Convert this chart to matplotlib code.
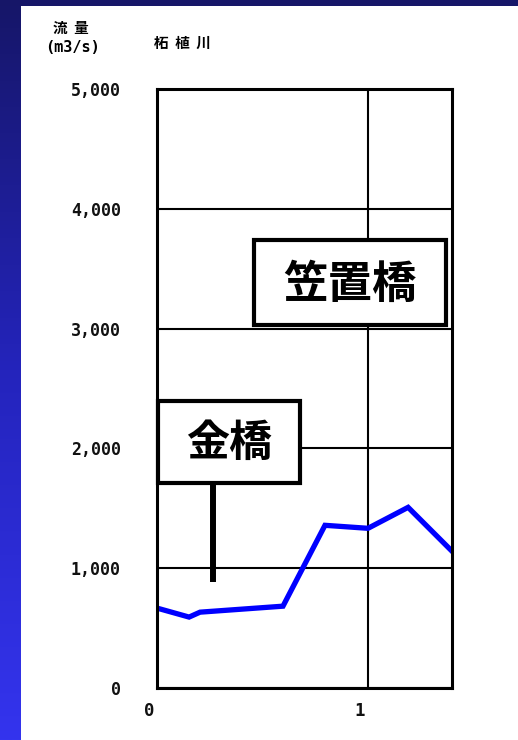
import numpy as np
import matplotlib.pyplot as plt
from matplotlib.patches import Rectangle
from matplotlib.colors import LinearSegmentedColormap
import matplotlib.transforms as mtransforms

plt.rcParams['font.family'] = ['Noto Sans CJK JP', 'DejaVu Sans']

# data
x_pos = [0, 0.152, 0.204, 0.597, 0.796, 1.0, 1.19, 1.398]
flow = [667, 592, 633, 683, 1358, 1333, 1508, 1142]
y_ticks = [0, 1000, 2000, 3000, 4000, 5000]
y_labels = ['0', '1,000', '2,000', '3,000', '4,000', '5,000']
x_ticks = [0, 1]
x_labels = ['0', '1']

W, H = 518, 740
fig = plt.figure(figsize=(W / 100, H / 100), dpi=100)

#%% background: blue gradient frame on left and top
bg = fig.add_axes([0, 0, 1, 1])
bg.axis('off')
cmap = LinearSegmentedColormap.from_list('frame', ['#161668', '#2424bc', '#3434ee'])
grad = np.linspace(0, 1, 256).reshape(-1, 1)
bg.imshow(grad, aspect='auto', cmap=cmap, extent=[0, 1, 0, 1], origin='upper')
bg.set_xlim(0, 1)
bg.set_ylim(0, 1)
bg.add_patch(Rectangle((21 / W, 0), 1, 1 - 6 / H, facecolor='white', edgecolor='none'))

#%% main axes
ax = fig.add_axes([157 / W, 1 - 688 / H, 295 / W, 599 / H])
ax.set_facecolor('white')
ax.plot(x_pos, flow, color='#0000ff', lw=3.8, solid_joinstyle='miter', zorder=3)

mono = 'DejaVu Sans Mono'
ax.set_xlim(0, 1.398)
ax.set_ylim(0, 5000)
ax.set_yticks(y_ticks)
ax.set_yticklabels(y_labels, fontsize=12, fontweight='bold', family=mono, color='#111111')
ax.set_xticks(x_ticks)
ax.set_xticklabels(x_labels, fontsize=12.5, fontweight='bold', family=mono, color='#111111')
ax.tick_params(axis='both', length=0)
ax.tick_params(axis='y', pad=26)
ax.tick_params(axis='x', pad=10)
off = mtransforms.ScaledTranslation(-8 / 100, 0, fig.dpi_scale_trans)
for lab in ax.get_xticklabels():
    lab.set_transform(lab.get_transform() + off)

ax.grid(True, color='black', lw=1.5)
ax.set_axisbelow(True)
for s in ax.spines.values():
    s.set_linewidth(2.2)
    s.set_zorder(4)

#%% place-name signs
ax.add_patch(Rectangle((0.003, 0.342), 0.482, 0.137, transform=ax.transAxes,
                       facecolor='white', edgecolor='black', lw=3, zorder=5, clip_on=False))
ax.plot([0.190, 0.190], [0.342, 0.177], transform=ax.transAxes, color='black', lw=4.3,
        solid_capstyle='butt', zorder=5)
ax.text(0.244, 0.409, '金橋', transform=ax.transAxes, fontsize=31, fontweight='bold',
        ha='center', va='center', zorder=6)

ax.add_patch(Rectangle((0.329, 0.606), 0.651, 0.142, transform=ax.transAxes,
                       facecolor='white', edgecolor='black', lw=3, zorder=5, clip_on=False))
ax.text(0.654, 0.673, '笠置橋', transform=ax.transAxes, fontsize=32, fontweight='bold',
        ha='center', va='center', zorder=6)

#%% header texts
fig.text(71 / W, 1 - 28 / H, '流  量', fontsize=10.5, fontweight='bold', ha='center', va='center')
fig.text(72 / W, 1 - 47 / H, '(m3/s)', fontsize=11, fontweight='bold', family=mono,
         ha='center', va='center')
fig.text(182 / W, 1 - 43 / H, '柘  植  川', fontsize=10.5, fontweight='bold', ha='center', va='center')

fig.savefig('out.png', dpi=100)
